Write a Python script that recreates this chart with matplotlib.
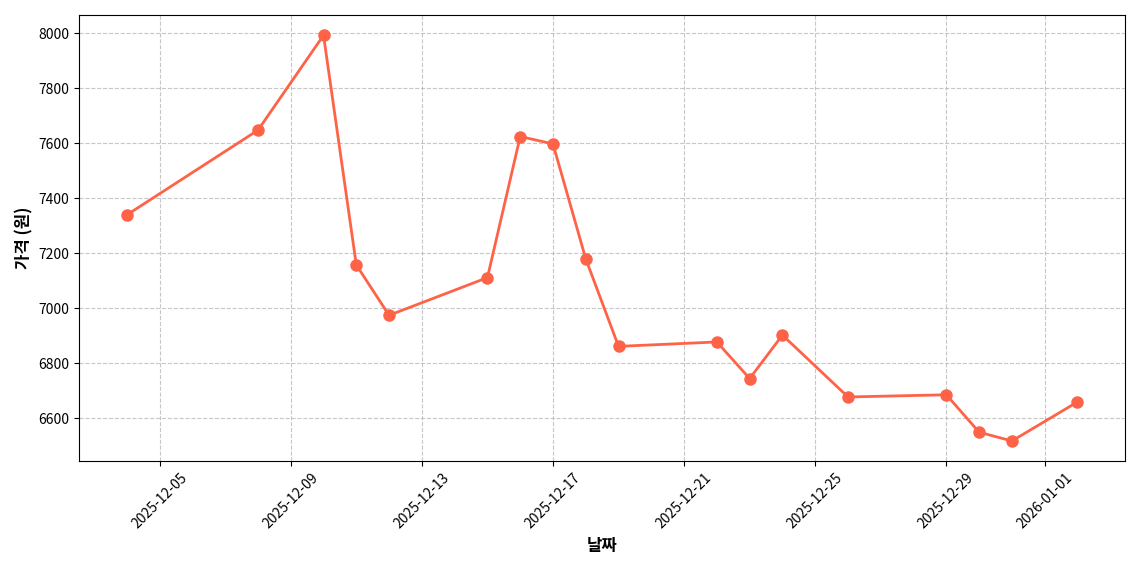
import matplotlib
matplotlib.use("Agg")
import matplotlib.pyplot as plt
import pandas as pd

plt.rcParams['font.family'] = ['Noto Sans CJK KR', 'DejaVu Sans']

dates = ["2025-12-04", "2025-12-08", "2025-12-10", "2025-12-11", "2025-12-12",
         "2025-12-15", "2025-12-16", "2025-12-17", "2025-12-18", "2025-12-19",
         "2025-12-22", "2025-12-23", "2025-12-24", "2025-12-26", "2025-12-29",
         "2025-12-30", "2025-12-31", "2026-01-02"]
prices = [7340, 7648, 7993, 7158, 6975, 7112, 7625, 7598, 7180, 6862,
          6878, 6745, 6903, 6678, 6686, 6550, 6518, 6660]
ticks = ["2025-12-05", "2025-12-09", "2025-12-13", "2025-12-17",
         "2025-12-21", "2025-12-25", "2025-12-29", "2026-01-01"]

x = pd.to_datetime(dates)

fig, ax = plt.subplots(figsize=(11.4, 5.7), dpi=100)
ax.plot(x, prices, color="tomato", marker="o", markersize=8, linewidth=2)
ax.set_xticks(pd.to_datetime(ticks))
ax.set_xticklabels(ticks, rotation=45)
ax.set_xlabel("날짜", fontsize=12, fontweight="bold")
ax.set_ylabel("가격 (원)", fontsize=12, fontweight="bold")
ax.grid(True, linestyle="--", alpha=0.7)
plt.tight_layout()
plt.savefig("out.png")
